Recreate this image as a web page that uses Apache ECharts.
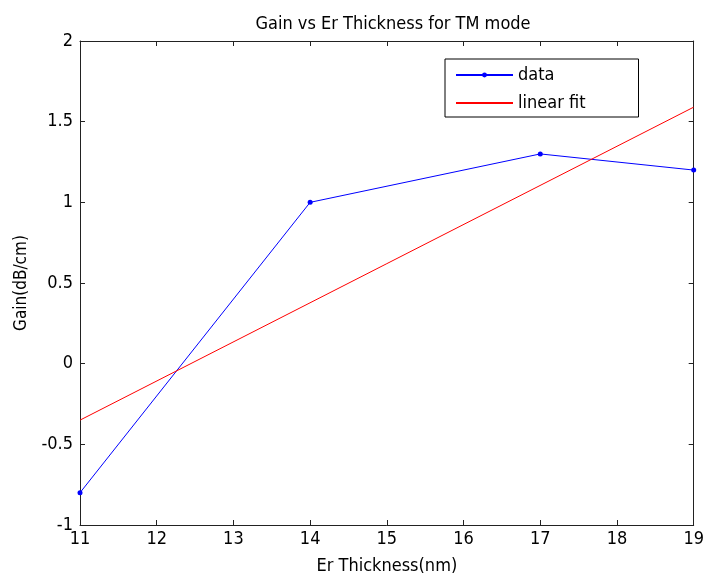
<!DOCTYPE html>
<html>
<head>
<meta charset="utf-8">
<script src="https://cdn.jsdelivr.net/npm/echarts@6/dist/echarts.min.js"></script>
<style>
html,body{margin:0;padding:0;background:#fff;}
#chart{width:707px;height:581px;}
</style>
</head>
<body>
<div id="chart"></div>
<script>
const thickness = [11, 14, 17, 19];
const gain = [-0.8, 1.0, 1.3, 1.2];
const fitThickness = [11, 19];
const fitGain = [-0.35, 1.59];
const xTicks = [11, 12, 13, 14, 15, 16, 17, 18, 19];
const yTicks = [-1, -0.5, 0, 0.5, 1, 1.5, 2];

const FONT = '"Liberation Sans Narrow", "DejaVu Sans Condensed", "Liberation Sans", sans-serif';
const AX = '#222';

const chart = echarts.init(document.getElementById('chart'), null, {renderer: 'canvas'});
const tickCommon = {show: true, inside: true, length: 5, lineStyle: {color: AX, width: 1}};
chart.setOption({
  backgroundColor: '#fff',
  animation: false,
  textStyle: {fontFamily: FONT},
  title: {
    text: 'Gain vs Er Thickness for TM mode',
    left: 388, top: 10, textAlign: 'center',
    textStyle: {fontFamily: FONT, fontSize: 18, fontWeight: 'normal', color: '#000'}
  },
  grid: {left: 80, right: 10, top: 41, bottom: 56, containLabel: false},
  legend: {
    left: 445, top: 59, orient: 'vertical',
    borderColor: '#000', borderWidth: 1,
    padding: [7, 53, 5, 10], itemGap: 10,
    itemWidth: 57, itemHeight: 6,
    textStyle: {fontFamily: FONT, fontSize: 18, color: '#000'},
    data: [{name: 'data'}, {name: 'linear fit', itemStyle: {opacity: 0}}]
  },
  xAxis: [{
    type: 'value', min: xTicks[0], max: xTicks[xTicks.length - 1], interval: 1,
    name: 'Er Thickness(nm)', nameLocation: 'middle', nameGap: 32,
    nameTextStyle: {fontFamily: FONT, fontSize: 18, color: '#000'},
    axisLine: {show: true, onZero: false, lineStyle: {color: AX, width: 1}},
    axisTick: tickCommon,
    axisLabel: {fontFamily: FONT, fontSize: 18, color: '#000', margin: 5},
    splitLine: {show: false}
  }, {
    type: 'value', position: 'top', min: xTicks[0], max: xTicks[xTicks.length - 1], interval: 1,
    axisLine: {show: true, onZero: false, lineStyle: {color: AX, width: 1}},
    axisTick: tickCommon, axisLabel: {show: false}, splitLine: {show: false}
  }],
  yAxis: [{
    type: 'value', min: yTicks[0], max: yTicks[yTicks.length - 1], interval: 0.5,
    name: 'Gain(dB/cm)', nameLocation: 'middle', nameGap: 44, nameRotate: 90,
    nameTextStyle: {fontFamily: FONT, fontSize: 17, color: '#000'},
    axisLine: {show: true, onZero: false, lineStyle: {color: AX, width: 1}},
    axisTick: tickCommon,
    axisLabel: {fontFamily: FONT, fontSize: 18, color: '#000', margin: 7},
    splitLine: {show: false}
  }, {
    type: 'value', position: 'right', min: yTicks[0], max: yTicks[yTicks.length - 1], interval: 0.5,
    axisLine: {show: true, onZero: false, lineStyle: {color: AX, width: 1}},
    axisTick: tickCommon, axisLabel: {show: false}, splitLine: {show: false}
  }],
  series: [{
    name: 'data', type: 'line',
    data: thickness.map((x, i) => [x, gain[i]]),
    symbol: 'circle', symbolSize: 5, showSymbol: true,
    lineStyle: {color: '#0000ff', width: 1},
    itemStyle: {color: '#0000ff'},
    clip: false
  }, {
    name: 'linear fit', type: 'line',
    data: fitThickness.map((x, i) => [x, fitGain[i]]),
    symbol: 'none',
    lineStyle: {color: '#ff0000', width: 1},
    itemStyle: {color: '#ff0000'}
  }]
});
</script>
</body>
</html>
